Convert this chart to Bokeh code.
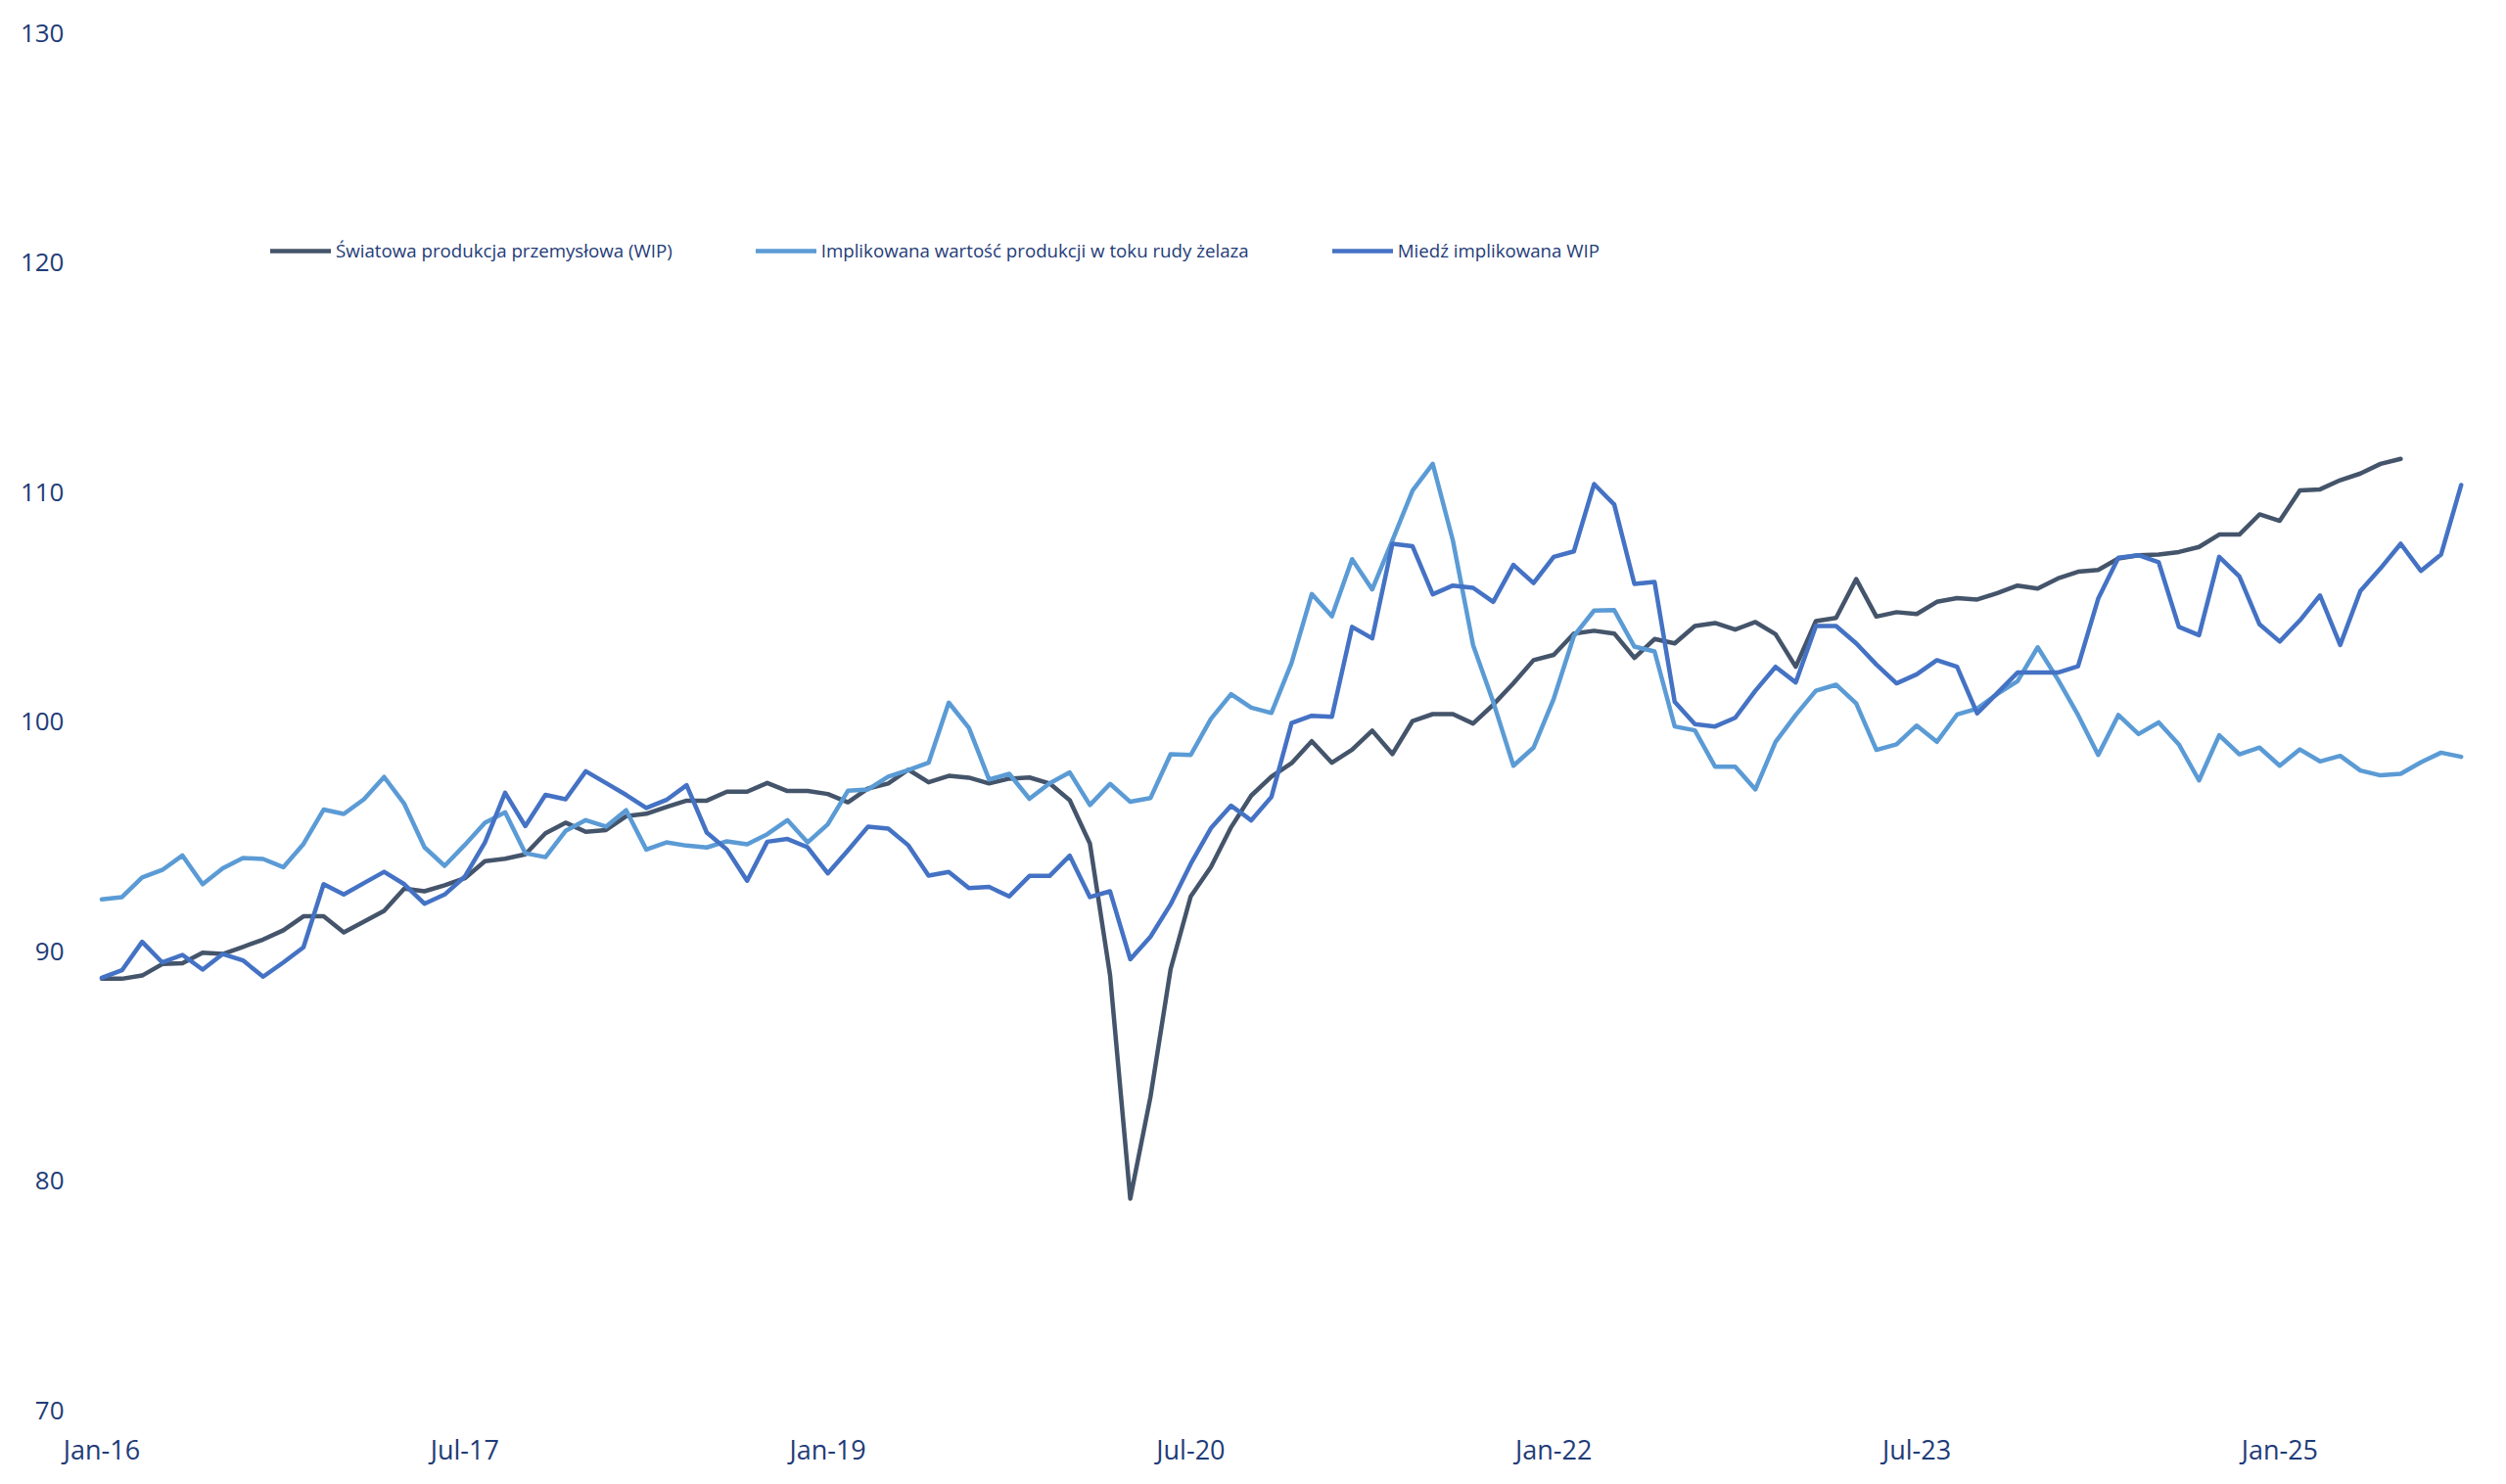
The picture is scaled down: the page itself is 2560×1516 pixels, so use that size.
from bokeh.plotting import figure
from bokeh.models import Range1d, FixedTicker, Legend, LegendItem, ColumnDataSource
from bokeh.embed import file_html
from bokeh.resources import INLINE

# ---- data (monthly, Jan-2016 onward) ----
tick_positions = [0, 18, 36, 54, 72, 90, 108]
tick_labels = ["Jan-16", "Jul-17", "Jan-19", "Jul-20", "Jan-22", "Jul-23", "Jan-25"]

world_ip = [
    88.79, 88.79, 88.93, 89.43, 89.47, 89.93, 89.87, 90.18, 90.50, 90.90, 91.51, 91.51,
    90.81, 91.28, 91.75, 92.72, 92.60, 92.86, 93.17, 93.91, 94.02, 94.21, 95.13, 95.59,
    95.19, 95.27, 95.87, 95.98, 96.27, 96.55, 96.55, 96.94, 96.94, 97.32, 96.97, 96.97,
    96.84, 96.48, 97.08, 97.30, 97.90, 97.35, 97.63, 97.55, 97.30, 97.51, 97.56, 97.30,
    96.57, 94.68, 88.94, 79.21, 83.63, 89.20, 92.38, 93.66, 95.39, 96.77, 97.60, 98.18,
    99.14, 98.20, 98.77, 99.60, 98.58, 100.02, 100.32, 100.32, 99.91, 100.73, 101.66, 102.67,
    102.90, 103.83, 103.95, 103.83, 102.77, 103.59, 103.40, 104.16, 104.29, 104.00, 104.33, 103.80,
    102.38, 104.37, 104.51, 106.20, 104.57, 104.76, 104.68, 105.21, 105.37, 105.31, 105.59, 105.92,
    105.79, 106.23, 106.52, 106.60, 107.10, 107.24, 107.27, 107.38, 107.60, 108.14, 108.14, 109.02,
    108.74, 110.06, 110.11, 110.51, 110.80, 111.22, 111.44,
]

iron_ore = [
    92.25, 92.35, 93.20, 93.53, 94.16, 92.91, 93.60, 94.05, 94.01, 93.65, 94.66, 96.16,
    95.97, 96.61, 97.58, 96.41, 94.52, 93.71, 94.62, 95.59, 96.04, 94.26, 94.09, 95.23,
    95.70, 95.42, 96.13, 94.42, 94.73, 94.59, 94.51, 94.78, 94.65, 95.09, 95.70, 94.73,
    95.52, 96.98, 97.04, 97.60, 97.88, 98.20, 100.82, 99.72, 97.47, 97.72, 96.63, 97.30,
    97.78, 96.36, 97.28, 96.50, 96.66, 98.57, 98.54, 100.11, 101.19, 100.60, 100.37, 102.55,
    105.55, 104.58, 107.07, 105.75, 107.88, 110.06, 111.22, 107.88, 103.33, 100.85, 98.07, 98.86,
    100.99, 103.72, 104.83, 104.85, 103.26, 103.05, 99.78, 99.61, 98.03, 98.03, 97.04, 99.11,
    100.28, 101.34, 101.60, 100.78, 98.76, 99.00, 99.82, 99.11, 100.30, 100.56, 101.20, 101.75,
    103.23, 101.83, 100.28, 98.54, 100.28, 99.45, 99.96, 99.00, 97.43, 99.40, 98.57, 98.86,
    98.07, 98.78, 98.26, 98.50, 97.86, 97.65, 97.72, 98.22, 98.64, 98.46,
]

copper = [
    88.83, 89.16, 90.40, 89.50, 89.83, 89.19, 89.87, 89.59, 88.88, 89.50, 90.16, 92.91,
    92.46, 92.96, 93.45, 92.91, 92.06, 92.46, 93.24, 94.73, 96.89, 95.44, 96.80, 96.61,
    97.83, 97.32, 96.80, 96.23, 96.58, 97.22, 95.16, 94.42, 93.06, 94.76, 94.88, 94.52,
    93.38, 94.38, 95.42, 95.33, 94.60, 93.28, 93.44, 92.74, 92.79, 92.38, 93.27, 93.27,
    94.15, 92.35, 92.60, 89.64, 90.62, 92.03, 93.80, 95.35, 96.33, 95.69, 96.71, 99.93,
    100.25, 100.20, 104.12, 103.62, 107.74, 107.63, 105.54, 105.92, 105.82, 105.21, 106.82, 106.03,
    107.17, 107.41, 110.34, 109.45, 105.99, 106.08, 100.85, 99.88, 99.78, 100.16, 101.34, 102.38,
    101.70, 104.16, 104.16, 103.40, 102.48, 101.66, 102.05, 102.67, 102.38, 100.35, 101.24, 102.13,
    102.13, 102.13, 102.40, 105.35, 107.13, 107.24, 106.93, 104.12, 103.76, 107.17, 106.32, 104.23,
    103.48, 104.40, 105.49, 103.33, 105.68, 106.67, 107.74, 106.56, 107.27, 110.30,
]

series_names = [
    "Światowa produkcja przemysłowa (WIP)",
    "Implikowana wartość produkcji w toku rudy żelaza",
    "Miedź implikowana WIP",
]
series_colors = ["#44546A", "#5B9BD5", "#4472C4"]
y_ticks = [70, 80, 90, 100, 110, 120, 130]

TEXT = "#1F3C78"
FONT = "Open Sans"

p = figure(
    width=2560, height=1516,
    output_backend="svg", toolbar_location=None,
    x_range=Range1d(-0.655, 117.79), y_range=Range1d(70, 130),
    min_border_left=90, min_border_right=30, min_border_top=33, min_border_bottom=76,
)
p.background_fill_color = "white"
p.border_fill_color = "white"
p.outline_line_color = None
p.grid.visible = False

renderers = []
for name, col, vals in zip(series_names, series_colors, [world_ip, iron_ore, copper]):
    src = ColumnDataSource(dict(x=list(range(len(vals))), y=vals))
    r = p.line("x", "y", source=src, line_color=col, line_width=4.5,
               line_join="round", line_cap="round")
    renderers.append(r)

# axes
p.xaxis.ticker = FixedTicker(ticks=tick_positions)
p.xaxis.major_label_overrides = {t: l for t, l in zip(tick_positions, tick_labels)}
p.yaxis.ticker = FixedTicker(ticks=y_ticks)
for ax in (p.xaxis[0], p.yaxis[0]):
    ax.axis_line_color = None
    ax.major_tick_line_color = None
    ax.minor_tick_line_color = None
    ax.major_label_text_color = TEXT
    ax.major_label_text_font = FONT
p.xaxis.major_label_text_font_size = "27px"
p.yaxis.major_label_text_font_size = "26px"
p.xaxis.major_label_standoff = 15
p.yaxis.major_label_standoff = 19

legend = Legend(
    items=[LegendItem(label=n, renderers=[r]) for n, r in zip(series_names, renderers)],
    orientation="horizontal",
    location=(186, 1172),
    glyph_width=62, glyph_height=20,
    label_standoff=5, spacing=85, padding=0, margin=0,
    label_text_font=FONT, label_text_font_size="18.7px", label_text_color=TEXT,
    background_fill_alpha=0, border_line_alpha=0,
)
p.add_layout(legend)

open("out.html", "w").write(file_html(p, INLINE))
